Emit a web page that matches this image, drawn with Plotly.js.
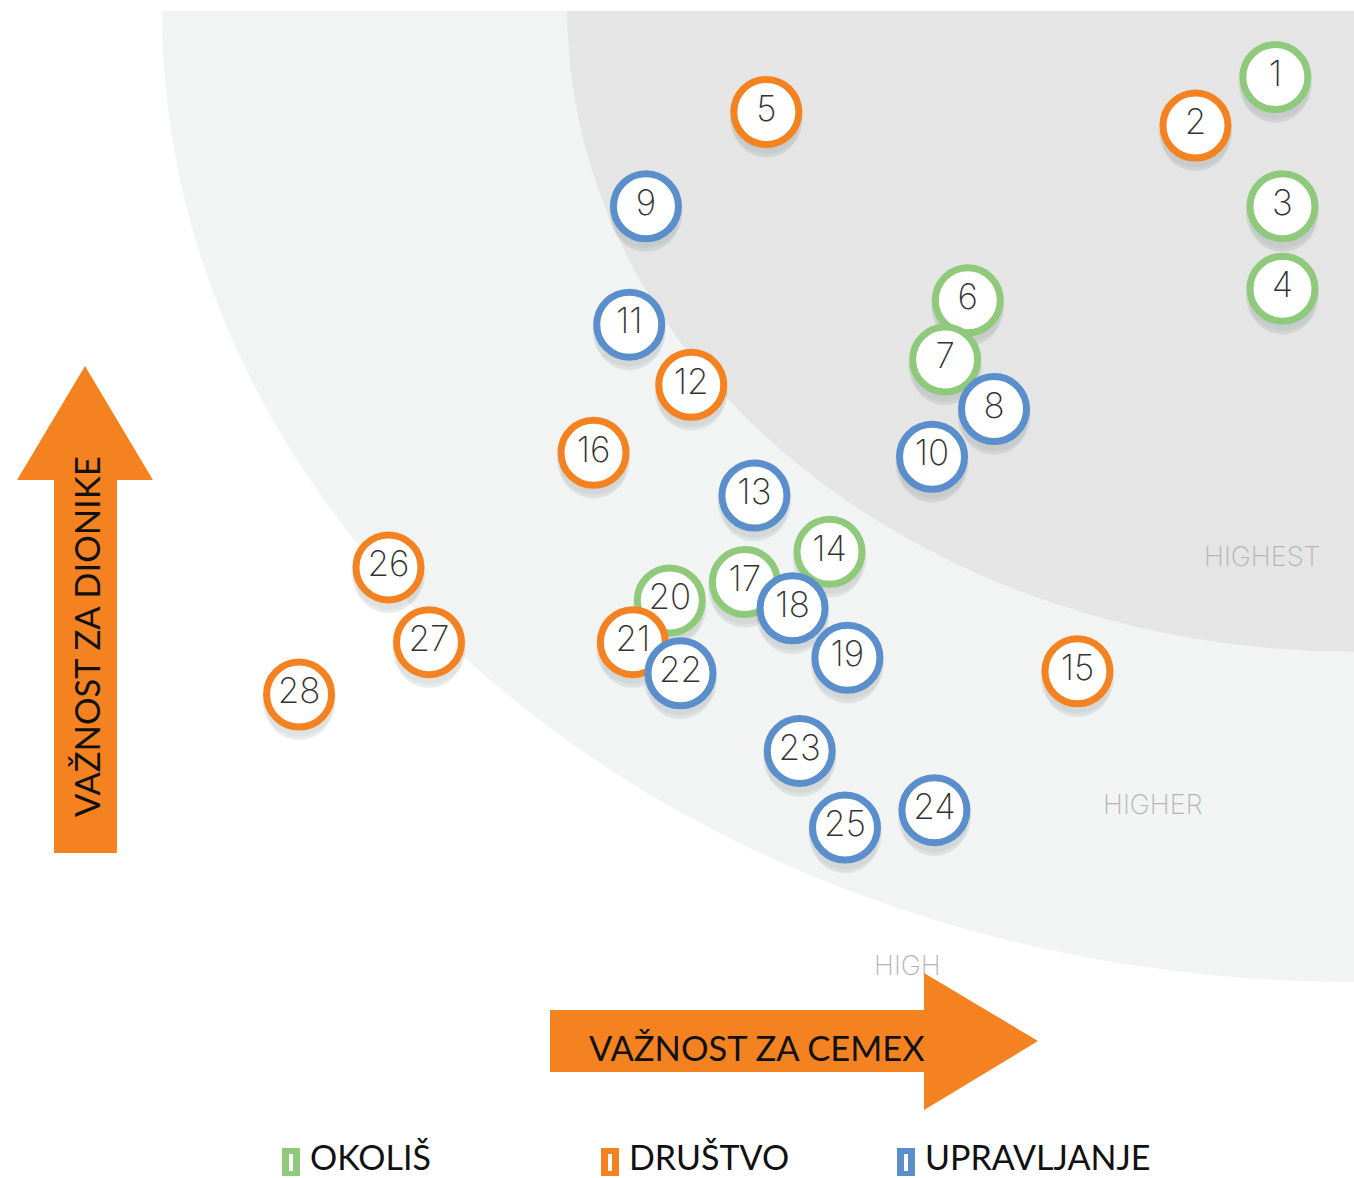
<!DOCTYPE html>
<html>
<head>
<meta charset="utf-8">
<script src="https://cdn.plot.ly/plotly-3.0.1.min.js"></script>
<style>
  html, body { margin: 0; padding: 0; background: #fff; }
  #chart { width: 1354px; height: 1178px; }
</style>
</head>
<body>
<div id="chart"></div>
<script>
// materiality matrix - topics scored 0..10 on both axes
var topicIds = [1,2,3,4,5,6,7,8,9,10,11,12,13,14,15,16,17,18,19,20,21,22,23,24,25,26,27,28];
var cemexScore = [9.34,8.67,9.40,9.40,5.07,6.76,6.57,6.98,4.06,6.46,3.92,4.44,4.97,5.60,7.68,3.62,4.89,5.29,5.75,4.26,3.95,4.35,5.35,6.48,5.73,1.90,2.24,1.15];
var stakeholderScore = [9.32,8.82,7.99,7.14,8.96,7.02,6.41,5.90,7.99,5.41,6.77,6.15,5.01,4.43,3.20,5.45,4.12,3.85,3.34,3.93,3.50,3.18,2.38,1.77,1.59,4.27,3.50,2.96];
var topicGroup = ['O','D','O','O','D','O','O','U','U','U','U','D','U','O','D','D','O','U','U','O','D','U','U','U','U','D','D','D'];

var groupKeys = ['O','D','U'];
var groupNames = ['OKOLIŠ','DRUŠTVO','UPRAVLJANJE'];
var groupColors = ['#8fca7c','#f58220','#5a8fcc'];

var zoneNames = ['HIGHEST','HIGHER','HIGH'];
var zoneLabelX = [9.23,8.31,6.25];
var zoneLabelY = [4.38,1.83,0.17];
var zoneRadius = [10, 6.6];
var zoneFill = ['#f2f3f3','#e5e5e5'];

var W = 1354, H = 1178;
var ML = 162, MR = 0, MT = 11, MB = 196;
var PW = W - ML - MR, PH = H - MT - MB;
var unitY = PH / 10;

// pixel -> paper helpers for the decorations outside the plot
function px(x){ return (x - ML) / PW; }
function py(y){ return (H - MB - y) / PH; }

var traces = [];
var shadowLayers = [
  {dy: 5, size: 74, alpha: 0.05},
  {dy: 9, size: 72, alpha: 0.05},
  {dy: 13, size: 66, alpha: 0.05}
];

groupKeys.forEach(function(key, g){
  var xs = [], ys = [], labels = [];
  for(var i = 0; i < topicIds.length; ++i){
    if(topicGroup[i] !== key) continue;
    xs.push(cemexScore[i]);
    ys.push(stakeholderScore[i]);
    labels.push(String(topicIds[i]));
  }
  shadowLayers.forEach(function(s){
    traces.push({
      x: xs,
      y: ys.map(function(v){ return v - s.dy / unitY; }),
      type: 'scatter',
      mode: 'markers',
      hoverinfo: 'skip',
      showlegend: false,
      cliponaxis: false,
      marker: { size: s.size, color: 'rgba(40,50,60,' + s.alpha + ')', line: {width: 0} }
    });
  });
  traces.push({
    x: xs,
    y: ys,
    text: labels,
    name: groupNames[g],
    type: 'scatter',
    mode: 'markers+text',
    textposition: 'middle center',
    cliponaxis: false,
    showlegend: false,
    textfont: { family: 'Inter, Lato, sans-serif', size: 35, color: '#333333', weight: 200 },
    marker: { size: 65, color: '#ffffff', line: { color: groupColors[g], width: 7 } }
  });
});

var shapes = [];
zoneRadius.forEach(function(r, k){
  shapes.push({
    type: 'circle', xref: 'x', yref: 'y', layer: 'below',
    x0: 10 - r, x1: 10 + r, y0: 10 - r, y1: 10 + r,
    fillcolor: zoneFill[k], line: { width: 0 }
  });
});

var arrowColor = '#f58220';
function pathFrom(points){
  return points.map(function(p, i){
    return (i ? 'L' : 'M') + px(p[0]).toFixed(4) + ',' + py(p[1]).toFixed(4);
  }).join(' ') + ' Z';
}
// vertical arrow (stakeholders)
shapes.push({
  type: 'path', xref: 'paper', yref: 'paper', layer: 'above',
  path: pathFrom([[54,853],[54,480],[17,480],[85,366],[153,480],[117,480],[117,853]]),
  fillcolor: arrowColor, line: { width: 0 }
});
// horizontal arrow (CEMEX)
shapes.push({
  type: 'path', xref: 'paper', yref: 'paper', layer: 'above',
  path: pathFrom([[550,1010],[924,1010],[924,973],[1038,1041],[924,1110],[924,1072],[550,1072]]),
  fillcolor: arrowColor, line: { width: 0 }
});

var annotations = [];
zoneNames.forEach(function(t, k){
  annotations.push({
    x: zoneLabelX[k], y: zoneLabelY[k], xref: 'x', yref: 'y',
    xanchor: 'center', yanchor: 'middle',
    text: t, showarrow: false,
    font: { family: 'Inter, Lato, sans-serif', size: 27, color: '#b4b4b4', weight: 200 }
  });
});
annotations.push({
  x: px(86), y: py(637), xref: 'paper', yref: 'paper',
  xanchor: 'center', yanchor: 'middle',
  text: 'VAŽNOST ZA DIONIKE', textangle: -90, showarrow: false,
  font: { family: 'Lato, sans-serif', size: 34.5, color: '#111111' }
});
annotations.push({
  x: px(757), y: py(1047), xref: 'paper', yref: 'paper',
  xanchor: 'center', yanchor: 'middle',
  text: 'VAŽNOST ZA CEMEX', showarrow: false,
  font: { family: 'Lato, sans-serif', size: 34.5, color: '#111111' }
});

// custom legend
var legendX = [282, 601, 897];
groupNames.forEach(function(name, g){
  var x0 = legendX[g];
  shapes.push({
    type: 'rect', xref: 'paper', yref: 'paper',
    x0: px(x0), x1: px(x0 + 18), y0: py(1176), y1: py(1148),
    fillcolor: groupColors[g], line: { width: 0 }
  });
  shapes.push({
    type: 'rect', xref: 'paper', yref: 'paper',
    x0: px(x0 + 7), x1: px(x0 + 11), y0: py(1171), y1: py(1154),
    fillcolor: '#ffffff', line: { width: 0 }
  });
  annotations.push({
    x: px(x0 + 27), y: py(1156), xref: 'paper', yref: 'paper',
    xanchor: 'left', yanchor: 'middle', borderpad: 0,
    text: name, showarrow: false,
    font: { family: 'Lato, sans-serif', size: 34, color: '#111111' }
  });
});

var layout = {
  width: W, height: H,
  margin: { l: ML, r: MR, t: MT, b: MB, pad: 0 },
  paper_bgcolor: '#ffffff',
  plot_bgcolor: 'rgba(0,0,0,0)',
  showlegend: false,
  xaxis: { range: [0, 10], visible: false, fixedrange: true },
  yaxis: { range: [0, 10], visible: false, fixedrange: true },
  shapes: shapes,
  annotations: annotations
};

Plotly.newPlot('chart', traces, layout, { displayModeBar: false, staticPlot: true });
</script>
</body>
</html>
